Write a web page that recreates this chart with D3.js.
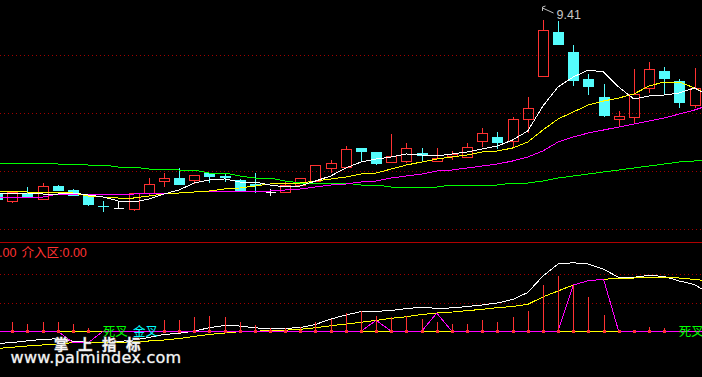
<!DOCTYPE html>
<html>
<head>
<meta charset="utf-8">
<style>
  body { margin: 0; background: #000; }
  svg { display: block; }
</style>
</head>
<body>
<div id="chartContainer"></div>
<script src="https://d3js.org/d3.v7.min.js"></script>
<script type="text/javascript">
  // daily bars, bar 0 and bar 47 sit partly off screen
  var open  = [7.68,7.60,7.68,7.62,7.75,7.71,7.65,7.55,7.53,7.52,7.68,7.80,7.83,7.81,7.88,7.85,7.81,7.77,7.69,7.69,7.76,7.80,7.93,7.94,8.13,8.09,7.99,8.00,8.08,8.00,8.05,8.04,8.20,8.24,8.20,8.42,8.85,9.29,9.09,8.82,8.64,8.42,8.44,8.73,8.90,8.80,8.56,8.70];
  var high  = [7.70,7.69,7.74,7.78,7.76,7.72,7.65,7.60,7.60,7.68,7.83,7.88,7.93,7.86,7.88,7.87,7.82,7.88,7.72,7.79,7.83,7.96,8.01,8.15,8.13,8.09,8.27,8.18,8.13,8.13,8.10,8.18,8.33,8.29,8.44,8.64,9.41,9.40,9.16,8.87,8.77,8.50,8.92,8.99,8.94,8.82,8.93,8.80];
  var low   = [7.59,7.58,7.64,7.62,7.70,7.65,7.55,7.49,7.53,7.50,7.65,7.74,7.76,7.77,7.78,7.79,7.69,7.68,7.65,7.68,7.76,7.80,7.88,7.94,8.00,7.96,7.99,7.98,7.99,7.99,8.01,8.04,8.14,8.12,8.14,8.28,8.85,9.16,8.75,8.66,8.44,8.35,8.38,8.68,8.66,8.53,8.53,8.60];
  var close = [7.61,7.69,7.64,7.75,7.70,7.65,7.56,7.54,7.53,7.68,7.77,7.83,7.76,7.86,7.84,7.83,7.69,7.75,7.69,7.76,7.83,7.96,7.98,8.12,8.09,7.97,8.05,8.13,8.05,8.03,8.07,8.14,8.28,8.18,8.42,8.53,9.31,9.16,8.80,8.74,8.45,8.45,8.67,8.92,8.82,8.58,8.73,8.65];

  // moving averages
  var ma5  = [7.68,7.68,7.68,7.67,7.67,7.68,7.66,7.64,7.60,7.59,7.62,7.67,7.71,7.78,7.81,7.82,7.79,7.79,7.76,7.74,7.75,7.80,7.85,7.93,7.99,8.02,8.04,8.07,8.06,8.05,8.07,8.09,8.12,8.15,8.21,8.30,8.55,8.74,8.84,8.91,8.89,8.74,8.62,8.65,8.66,8.68,8.73,8.65];
  var ma10 = [7.70,7.70,7.69,7.69,7.69,7.68,7.65,7.64,7.63,7.63,7.65,7.67,7.68,7.69,7.70,7.72,7.73,7.75,7.77,7.78,7.78,7.80,7.82,7.84,7.87,7.88,7.92,7.96,7.99,8.02,8.04,8.06,8.09,8.10,8.13,8.19,8.31,8.42,8.49,8.56,8.60,8.63,8.67,8.75,8.79,8.79,8.73,8.66];
  var ma20 = [7.64,7.64,7.64,7.64,7.67,7.67,7.67,7.67,7.67,7.67,7.68,7.68,7.68,7.69,7.70,7.70,7.70,7.70,7.70,7.71,7.72,7.74,7.76,7.77,7.79,7.80,7.83,7.85,7.87,7.90,7.91,7.93,7.95,7.97,8.00,8.04,8.10,8.19,8.24,8.28,8.31,8.34,8.37,8.40,8.43,8.47,8.51,8.56];
  var ma60 = [7.98,7.98,7.98,7.98,7.97,7.97,7.96,7.96,7.94,7.94,7.92,7.92,7.91,7.91,7.88,7.88,7.85,7.83,7.83,7.80,7.78,7.78,7.78,7.78,7.76,7.76,7.74,7.74,7.74,7.74,7.76,7.76,7.76,7.76,7.78,7.78,7.80,7.83,7.85,7.87,7.89,7.91,7.93,7.95,7.97,7.99,8.00,8.02];
  var priceGrid = [9.06, 8.48, 7.90, 7.32];

  // lower indicator panel
  var redBars    = [4.0,6.3,5.1,6.3,6.3,5.1,2.1,0,0,0,0,7.9,7.9,9.8,10.7,10.2,6.3,4.4,2.3,2.3,3.0,6.3,8.6,12.8,14.2,10.7,10.0,10.7,8.6,6.5,5.1,5.1,7.9,6.5,10.0,14.2,32.5,38.8,32.5,24.1,11.4,0.9,0.7,3.0,2.3,0,0,0];
  var whiteLine  = [-8.6,-7.9,-6.7,-5.6,-5.3,-6.9,-7.7,-7.9,-7.2,-6.1,-4.4,-2.2,-1.4,0.2,2.5,4.1,3.7,2.5,1.6,2.0,2.7,4.8,8.6,11.4,13.8,14.0,14.6,16.0,16.8,16.1,16.4,17.4,18.5,19.9,22.3,27.2,38.8,47.2,48.1,47.2,43.5,37.9,37.9,39.2,38.5,35.3,32.8,26.3];
  var yellowLine = [-12.1,-11.2,-10.3,-9.6,-8.9,-8.0,-8.0,-8.1,-7.9,-7.5,-6.8,-6.1,-5.1,-3.6,-2.2,-1.2,-0.3,0.1,0.4,0.8,1.4,2.5,3.9,5.1,6.3,7.7,9.1,10.2,11.8,12.8,13.5,14.5,15.4,16.6,17.4,18.9,24.1,28.3,32.5,35.5,36.5,37.2,37.4,37.6,38.0,37.4,36.4,35.3];
  var pinkLine   = [0,0,0,0,0,-8.0,-8.0,0,0,0,0,0,0,0,0,0,-0.3,0,0,0,0,0,0,0,0,7.7,0,0,0,12.8,0,0,0,0,0,0,0,0,32.5,35.5,36.5,0,0,0,0,0,0,0];
  var entryZone = 0.00;
  var indGrid = [19.6, 40];
  var crossBars = [7, 9, 45];
  var crossText = ["死叉", "金叉", "死叉"];

  var W = 702, H = 377;
  var svg = d3.select("#chartContainer").append("svg")
    .attr("width", W).attr("height", H)
    .style("background", "#000");

  var idx = d3.range(open.length);
  var x = d3.scaleLinear().domain([0, 47]).range([-2.86, -2.86 + 15.16 * 47]);
  var y = d3.scaleLinear().domain([7.32, 9.41]).range([229, 20]);
  var yi = d3.scaleLinear().domain([0, 40]).range([331.3, 274.3]);

  var RED = "#ff3232", CYAN = "#54fcfc";

  // grid
  svg.selectAll(".pgrid").data(priceGrid).enter().append("line")
    .attr("x1", 0).attr("x2", W)
    .attr("y1", function (d) { return Math.round(y(d)) + 0.5; })
    .attr("y2", function (d) { return Math.round(y(d)) + 0.5; })
    .attr("stroke", "#a00000").attr("stroke-dasharray", "1,3");
  svg.selectAll(".igrid").data(indGrid).enter().append("line")
    .attr("x1", 0).attr("x2", W)
    .attr("y1", function (d) { return Math.round(yi(d)) + 0.5; })
    .attr("y2", function (d) { return Math.round(yi(d)) + 0.5; })
    .attr("stroke", "#a00000").attr("stroke-dasharray", "1,3");
  svg.append("line").attr("x1", 0).attr("x2", W).attr("y1", 242.5).attr("y2", 242.5)
    .attr("stroke", "#b00000");

  // candles
  var k = svg.append("g").attr("shape-rendering", "crispEdges");
  idx.forEach(function (i) {
    var cx = Math.round(x(i)) + 0.5;
    var o = open[i], c = close[i];
    var top = y(Math.max(o, c)), bot = y(Math.min(o, c));
    if (c > o) {
      k.append("line").attr("x1", cx).attr("x2", cx).attr("y1", y(high[i])).attr("y2", top).attr("stroke", RED);
      k.append("line").attr("x1", cx).attr("x2", cx).attr("y1", bot).attr("y2", y(low[i])).attr("stroke", RED);
      k.append("rect").attr("x", cx - 5).attr("y", Math.round(top) + 0.5)
        .attr("width", 10).attr("height", Math.max(1, Math.round(bot - top)))
        .attr("fill", "none").attr("stroke", RED);
    } else if (c < o) {
      k.append("line").attr("x1", cx).attr("x2", cx).attr("y1", y(high[i])).attr("y2", y(low[i])).attr("stroke", CYAN);
      k.append("rect").attr("x", cx - 5.5).attr("y", Math.round(top))
        .attr("width", 11).attr("height", Math.max(1, Math.round(bot - top)))
        .attr("fill", CYAN);
    } else {
      k.append("line").attr("x1", cx).attr("x2", cx).attr("y1", y(high[i])).attr("y2", y(low[i])).attr("stroke", "#fff");
      k.append("line").attr("x1", cx - 5).attr("x2", cx + 5)
        .attr("y1", Math.round(top) + 0.5).attr("y2", Math.round(top) + 0.5).attr("stroke", "#fff");
    }
  });

  // moving averages
  function addLine(g, vals, sc, color) {
    var line = d3.line().x(function (d, i) { return x(i); }).y(function (d) { return sc(d); });
    g.append("path").datum(vals).attr("d", line)
      .attr("fill", "none").attr("stroke", color).attr("stroke-width", 1)
      .attr("shape-rendering", "crispEdges");
  }
  var mg = svg.append("g");
  addLine(mg, ma60, y, "#00ff00");
  addLine(mg, ma20, y, "#ff00ff");
  addLine(mg, ma10, y, "#ffff00");
  addLine(mg, ma5, y, "#ffffff");

  // highest price marker
  var hi = d3.maxIndex(high);
  var hx = Math.round(x(hi)) + 0.5;
  svg.append("path")
    .attr("d", "M" + (hx - 1) + ",7 L" + (hx + 2) + ",6 M" + (hx - 1) + ",7 L" + (hx - 1) + ",11 M" + (hx - 1) + ",8 L" + (hx + 10) + ",13")
    .attr("stroke", "#c0c0c0").attr("fill", "none");
  svg.append("text").attr("x", hx + 13).attr("y", 18.5)
    .attr("fill", "#c8c8c8").style("font-family", "Liberation Sans, Arial, sans-serif")
    .style("font-size", "12.5px").text(d3.format(".2f")(high[hi]));

  // indicator panel
  var ig = svg.append("g");
  addLine(ig, idx.map(function () { return entryZone; }), yi, "#ffff00");
  addLine(ig, whiteLine, yi, "#ffffff");
  addLine(ig, yellowLine, yi, "#ffff00");
  addLine(ig, pinkLine, yi, "#ff00ff");

  var sg = svg.append("g").attr("shape-rendering", "crispEdges");
  idx.forEach(function (i) {
    if (redBars[i] <= 0) return;
    var cx = Math.round(x(i));
    sg.append("rect").attr("x", cx).attr("y", yi(redBars[i]))
      .attr("width", 1.4).attr("height", yi(0) - yi(redBars[i]) + 2).attr("fill", RED);
    sg.append("rect").attr("x", cx - 1).attr("y", Math.round(yi(0)) - 1)
      .attr("width", 3).attr("height", 3).attr("fill", RED);
  });

  // title values
  var tf = "Liberation Sans, Arial, 'Noto Sans CJK SC', sans-serif";
  svg.append("text").attr("x", -8).attr("y", 256.5).attr("fill", RED)
    .style("font-family", tf).style("font-size", "12.5px")
    .text(d3.format(".2f")(entryZone));
  svg.append("text").attr("x", 21.5).attr("y", 256.5).attr("fill", RED)
    .style("font-family", tf).style("font-size", "12.5px")
    .text("介入区:" + d3.format(".2f")(entryZone));

  // cross signals
  svg.selectAll(".cross").data(crossBars).enter().append("text")
    .attr("x", function (d) { return x(d) - 0.5; })
    .attr("y", 336)
    .attr("fill", function (d, i) { return crossText[i] === "金叉" ? "#00ffff" : "#00ff00"; })
    .style("font-family", "'Noto Sans CJK SC', sans-serif")
    .style("font-size", "12.5px")
    .text(function (d, i) { return crossText[i]; });

  // watermark
  svg.append("text").attr("x", 54).attr("y", 349.5)
    .attr("fill", "#f4f4f4").attr("stroke", "#808080").attr("stroke-width", 0.8)
    .attr("paint-order", "stroke")
    .style("font-family", "'Noto Sans CJK SC', sans-serif").style("font-weight", "bold")
    .style("font-size", "14.5px").style("letter-spacing", "9.5px")
    .text("掌上指标");
  svg.append("text").attr("x", 10.5).attr("y", 363.3)
    .attr("fill", "#f4f4f4").attr("stroke", "#808080").attr("stroke-width", 0.7)
    .attr("paint-order", "stroke")
    .style("font-family", "DejaVu Sans, sans-serif")
    .style("font-size", "16px").style("letter-spacing", "0.3px")
    .text("www.palmindex.com");
</script>
</body>
</html>
